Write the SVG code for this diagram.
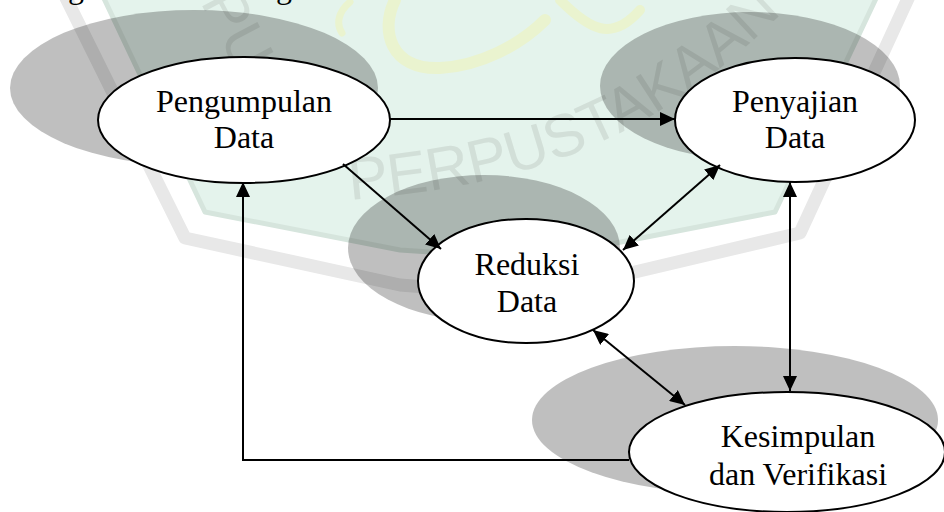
<svg xmlns="http://www.w3.org/2000/svg" width="944" height="512" viewBox="0 0 944 512">
  <style>
    .shadow { fill: #000; fill-opacity: 0.25; }
    .node { fill: #fff; stroke: #000; stroke-width: 2; }
    .label { font-family: "Liberation Serif", "Times New Roman", serif; font-size: 32px; fill: #000; text-anchor: middle; }
    .edge { fill: none; stroke: #000; stroke-width: 2; }
    .wm-text { font-family: "Liberation Sans", Arial, sans-serif; font-size: 60px; fill: #d2dfd8; }
    .logo { fill: none; stroke: #eaf3cf; stroke-linecap: round; }
  </style>
  <defs>
    <marker id="ah" viewBox="0 0 15 14" refX="15" refY="7" markerWidth="15" markerHeight="14" markerUnits="userSpaceOnUse" orient="auto-start-reverse">
      <path d="M0,0 L15,7 L0,14 z" fill="#000"/>
    </marker>
    <path id="arcText" d="M350,200 C520,185 650,150 800,-5"/>
  </defs>

  <rect width="944" height="512" fill="#fff"/>

  <!-- library seal in the page background -->
  <g id="seal">
    <path d="M62,-10 L185,238 L400,285 L490,292 L580,285 L800,233 L912,-10" fill="none" stroke="#e8e8e8" stroke-width="13" stroke-linejoin="round"/>
    <path d="M100,-10 L205,212 L400,250 L490,256 L580,250 L775,212 L880,-10 Z" fill="#e4f3ec" stroke="#d6e5dd" stroke-width="5" stroke-linejoin="round"/>
    <path class="logo" stroke-width="7" d="M350,2 C338,12 336,24 342,33"/>
    <path class="logo" stroke-width="12" d="M395,0 C380,30 390,70 440,68 C480,66 520,45 545,20"/>
    <path class="logo" stroke-width="10" d="M560,0 C590,30 612,42 640,10"/>
    <text class="wm-text"><textPath href="#arcText">PERPUSTAKAAN</textPath></text>
    <text class="wm-text" transform="translate(200,2) rotate(62)">PU</text>
  </g>

  <!-- descenders of the line above -->
  <text x="68" y="-2" class="label" style="text-anchor:start">g</text>
  <text x="276" y="-2" class="label" style="text-anchor:start">g</text>

  <g id="pengumpulan">
    <ellipse class="shadow" cx="194" cy="88" rx="184" ry="78"/>
    <ellipse class="node" cx="244" cy="120" rx="146" ry="63"/>
    <text class="label" x="244" y="112">Pengumpulan</text>
    <text class="label" x="244" y="148">Data</text>
  </g>

  <g id="penyajian">
    <ellipse class="shadow" cx="750" cy="86" rx="150" ry="74"/>
    <ellipse class="node" cx="795" cy="120" rx="120" ry="62"/>
    <text class="label" x="795" y="112">Penyajian</text>
    <text class="label" x="795" y="148">Data</text>
  </g>

  <g id="reduksi">
    <ellipse class="shadow" cx="484" cy="248" rx="136" ry="73"/>
    <ellipse class="node" cx="526" cy="281" rx="108" ry="62"/>
    <text class="label" x="527" y="275">Reduksi</text>
    <text class="label" x="527" y="312">Data</text>
  </g>

  <g id="kesimpulan">
    <ellipse class="shadow" cx="735" cy="420" rx="203" ry="74"/>
    <ellipse class="node" cx="787" cy="452" rx="158" ry="60"/>
    <text class="label" x="798" y="447">Kesimpulan</text>
    <text class="label" x="798" y="485">dan Verifikasi</text>
  </g>

  <g id="connectors">
    <path class="edge" d="M390,119 L675,119" marker-end="url(#ah)"/>
    <path class="edge" d="M343,164 L441,249" marker-end="url(#ah)"/>
    <path class="edge" d="M623,250 L720,165" marker-start="url(#ah)" marker-end="url(#ah)"/>
    <path class="edge" d="M790,182 L790,391" marker-start="url(#ah)" marker-end="url(#ah)"/>
    <path class="edge" d="M593,330 L685,405" marker-start="url(#ah)" marker-end="url(#ah)"/>
    <path class="edge" d="M629,460 L243,460 L243,182" marker-end="url(#ah)"/>
  </g>
</svg>
